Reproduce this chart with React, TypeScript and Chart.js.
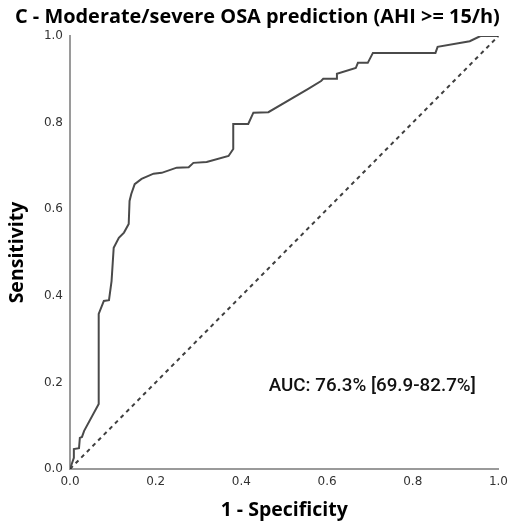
import React, { useEffect, useRef } from "react";
import { Chart, registerables } from "chart.js";

Chart.register(...registerables);

// ROC curve points
const fpr = [0, 0.009, 0.009, 0.021, 0.023, 0.028, 0.033, 0.067, 0.067, 0.079, 0.091, 0.097, 0.102, 0.114, 0.126, 0.137, 0.139, 0.143, 0.151, 0.167, 0.195, 0.214, 0.249, 0.277, 0.288, 0.319, 0.370, 0.381, 0.381, 0.416, 0.428, 0.463, 0.556, 0.586, 0.591, 0.621, 0.623, 0.667, 0.672, 0.695, 0.707, 0.853, 0.858, 0.933, 0.958, 1.0];
const tpr = [0, 0.026, 0.046, 0.048, 0.072, 0.074, 0.088, 0.150, 0.358, 0.388, 0.390, 0.434, 0.511, 0.534, 0.546, 0.566, 0.619, 0.635, 0.658, 0.670, 0.682, 0.684, 0.696, 0.697, 0.707, 0.709, 0.723, 0.739, 0.797, 0.797, 0.823, 0.824, 0.878, 0.896, 0.901, 0.901, 0.913, 0.926, 0.938, 0.938, 0.961, 0.961, 0.975, 0.988, 1.0, 1.0];

// Reference (chance) line
const refX = [0, 1];
const refY = [0, 1];

const tickValues = [0, 0.2, 0.4, 0.6, 0.8, 1.0];

const titleText = "C - Moderate/severe OSA prediction (AHI >= 15/h)";
const xTitle = "1 - Specificity";
const yTitle = "Sensitivity";
const aucText = "AUC: 76.3% [69.9-82.7%]";
const aucAt = { x: 0.464, y: 0.192 };

function fitFont(ctx: any, text: string, weight: string, family: string, target: number) {
  ctx.font = `${weight} 20px ${family}`;
  const w = ctx.measureText(text).width;
  const size = (20 * target) / w;
  ctx.font = `${weight} ${size.toFixed(2)}px ${family}`;
}

const textPlugin = {
  id: "textPlugin",
  afterDraw(chart: any) {
    const ctx = chart.ctx;
    ctx.save();
    ctx.textAlign = "left";
    ctx.textBaseline = "middle";
    // main title
    fitFont(ctx, titleText, "bold", '"Open Sans"', 485);
    ctx.fillStyle = "#000";
    ctx.fillText(titleText, 15, 17);
    // AUC text
    fitFont(ctx, aucText, "500", "Roboto", 207);
    ctx.fillStyle = "#111";
    const px = chart.scales.x.getPixelForValue(aucAt.x);
    const py = chart.scales.y.getPixelForValue(aucAt.y);
    ctx.fillText(aucText, px, py);
    ctx.restore();
  },
};

export default function App() {
  const ref = useRef<HTMLCanvasElement | null>(null);
  useEffect(() => {
    if (!ref.current) return;
    const tickFont = { family: "DejaVu Sans", size: 12 };
    const axisTitleFont = { family: "Open Sans", size: 19.5, weight: "bold" };
    const chart = new Chart(ref.current, {
      type: "scatter",
      data: {
        datasets: [
          {
            data: fpr.map((x, i) => ({ x, y: tpr[i] })),
            showLine: true,
            borderColor: "#4a4a4a",
            borderWidth: 2,
            pointRadius: fpr.map((_, i) => (i === 0 || i === fpr.length - 1 ? 1.6 : 0)),
            pointBackgroundColor: "#303030",
            pointBorderWidth: 0,
            tension: 0,
          } as any,
          {
            data: refX.map((x, i) => ({ x, y: refY[i] })),
            showLine: true,
            borderColor: "#3f3f3f",
            borderWidth: 2,
            borderDash: [4, 4],
            pointRadius: 0,
          } as any,
        ],
      },
      options: {
        animation: false,
        responsive: false,
        layout: { padding: { left: 0, right: 13, top: 36, bottom: 0 } },
        plugins: {
          legend: { display: false },
          tooltip: { enabled: false },
          title: { display: false },
        },
        scales: {
          x: {
            type: "linear",
            min: 0,
            max: 1,
            afterBuildTicks: (s: any) => {
              s.ticks = tickValues.map((v) => ({ value: v }));
            },
            ticks: {
              callback: (v: any) => Number(v).toFixed(1),
              padding: 6,
              font: tickFont,
              color: "#333",
              maxRotation: 0,
            },
            grid: { display: false, drawTicks: false },
            border: { display: true, color: "#9a9a9a", width: 2 },
            title: {
              display: true,
              text: xTitle,
              font: axisTitleFont,
              color: "#000",
              padding: { top: 0, bottom: 1 },
            },
            afterFit: (s: any) => {
              s.height = 54;
            },
          },
          y: {
            type: "linear",
            min: 0,
            max: 1,
            afterBuildTicks: (s: any) => {
              s.ticks = tickValues.map((v) => ({ value: v }));
            },
            ticks: {
              callback: (v: any) => Number(v).toFixed(1),
              padding: 7,
              font: tickFont,
              color: "#333",
            },
            grid: { display: false, drawTicks: false },
            border: { display: true, color: "#9a9a9a", width: 2 },
            title: {
              display: true,
              text: yTitle,
              font: axisTitleFont,
              color: "#000",
              padding: { top: 6, bottom: 0 },
            },
            afterFit: (s: any) => {
              s.width = 70;
            },
          },
        },
      } as any,
      plugins: [textPlugin],
    });
    return () => chart.destroy();
  }, []);
  return (
    <div style={{ position: "fixed", left: 0, top: 0, width: 514, height: 523, background: "#fff" }}>
      <canvas ref={ref} width={514} height={523} style={{ display: "block" }} />
    </div>
  );
}
